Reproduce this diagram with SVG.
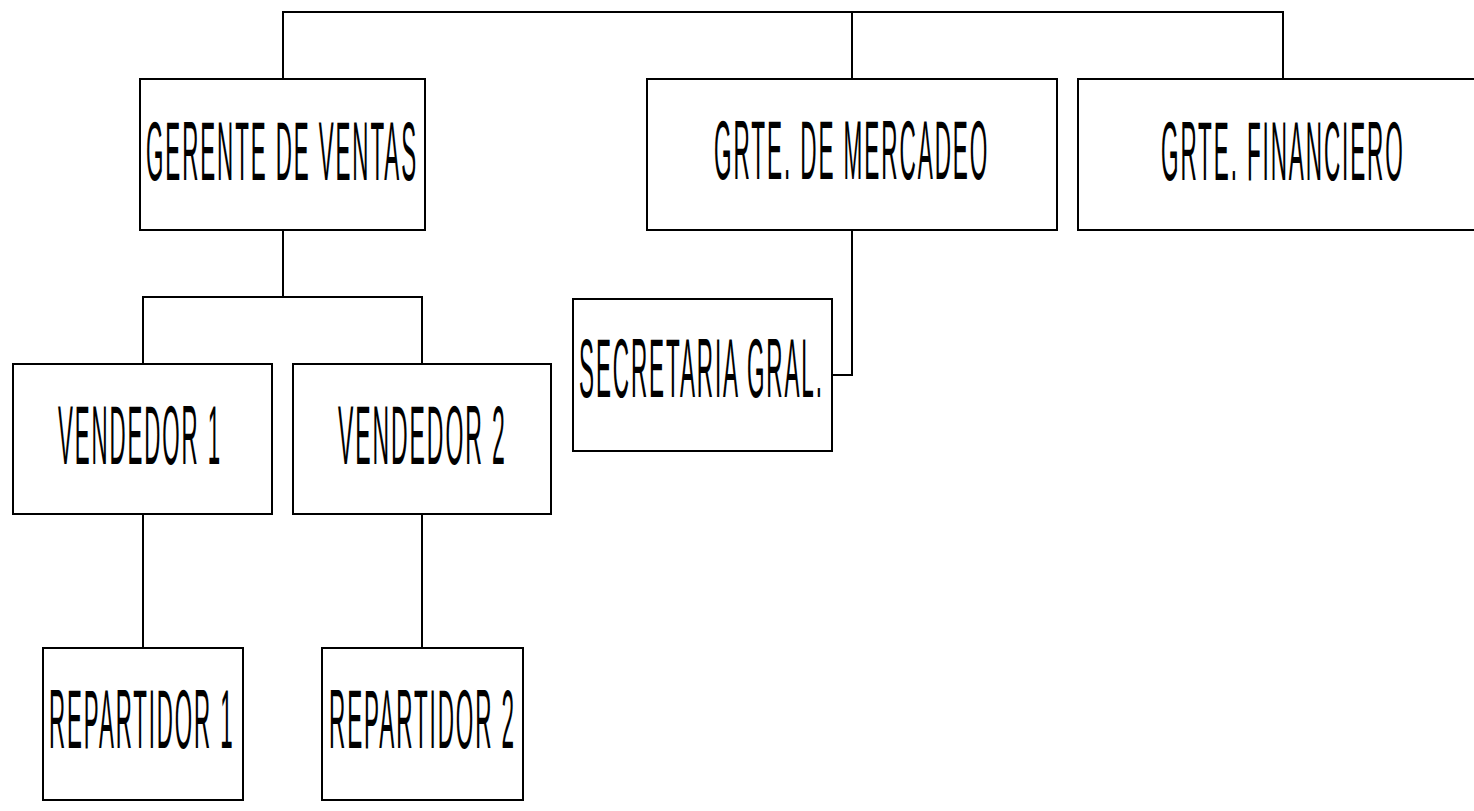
<svg xmlns="http://www.w3.org/2000/svg" width="1474" height="811" viewBox="0 0 1474 811">
  <style>
    .box { fill: #ffffff; stroke: #000000; stroke-width: 2; }
    .link { fill: none; stroke: #000000; stroke-width: 2; }
    .label { font-family: "Liberation Sans", Arial, sans-serif; font-size: 83px; letter-spacing: 7px; fill: #000000; }
  </style>
  <rect width="1474" height="811" fill="#ffffff"/>

  <!-- org chart connectors -->
  <g id="connectors">
    <polyline class="link" points="283,79 283,12 1283,12 1283,79"/>
    <line class="link" x1="852" y1="12" x2="852" y2="79"/>
    <line class="link" x1="283" y1="230" x2="283" y2="297"/>
    <polyline class="link" points="143,364 143,297 422,297 422,364"/>
    <polyline class="link" points="852,230 852,375 832,375"/>
    <line class="link" x1="143" y1="514" x2="143" y2="648"/>
    <line class="link" x1="422" y1="514" x2="422" y2="648"/>
  </g>

  <!-- labels use a narrow horizontal scale to get the condensed lettering -->
  <g id="gerente-ventas">
    <rect class="box" x="140" y="79" width="285" height="151"/>
    <text class="label" transform="translate(146,180) scale(0.270,1)">GERENTE DE VENTAS</text>
  </g>

  <g id="grte-mercadeo">
    <rect class="box" x="647" y="79" width="410" height="151"/>
    <text class="label" transform="translate(714,179) scale(0.272,1)">GRTE. DE MERCADEO</text>
  </g>

  <g id="grte-financiero">
    <rect class="box" x="1078" y="79" width="410" height="151"/>
    <text class="label" transform="translate(1161,180) scale(0.271,1)">GRTE. FINANCIERO</text>
  </g>

  <g id="secretaria-gral">
    <rect class="box" x="573" y="299" width="259" height="152"/>
    <text class="label" transform="translate(579,397) scale(0.271,1)">SECRETARIA GRAL.</text>
  </g>

  <g id="vendedor-1">
    <rect class="box" x="13" y="364" width="259" height="150"/>
    <text class="label" transform="translate(58,464) scale(0.269,1)">VENDEDOR 1</text>
  </g>

  <g id="vendedor-2">
    <rect class="box" x="293" y="364" width="258" height="150"/>
    <text class="label" transform="translate(338,464) scale(0.277,1)">VENDEDOR 2</text>
  </g>

  <g id="repartidor-1">
    <rect class="box" x="43" y="648" width="200" height="152"/>
    <text class="label" transform="translate(49,748) scale(0.269,1)">REPARTIDOR 1</text>
  </g>

  <g id="repartidor-2">
    <rect class="box" x="322" y="648" width="201" height="152"/>
    <text class="label" transform="translate(329,748) scale(0.271,1)">REPARTIDOR 2</text>
  </g>
</svg>
